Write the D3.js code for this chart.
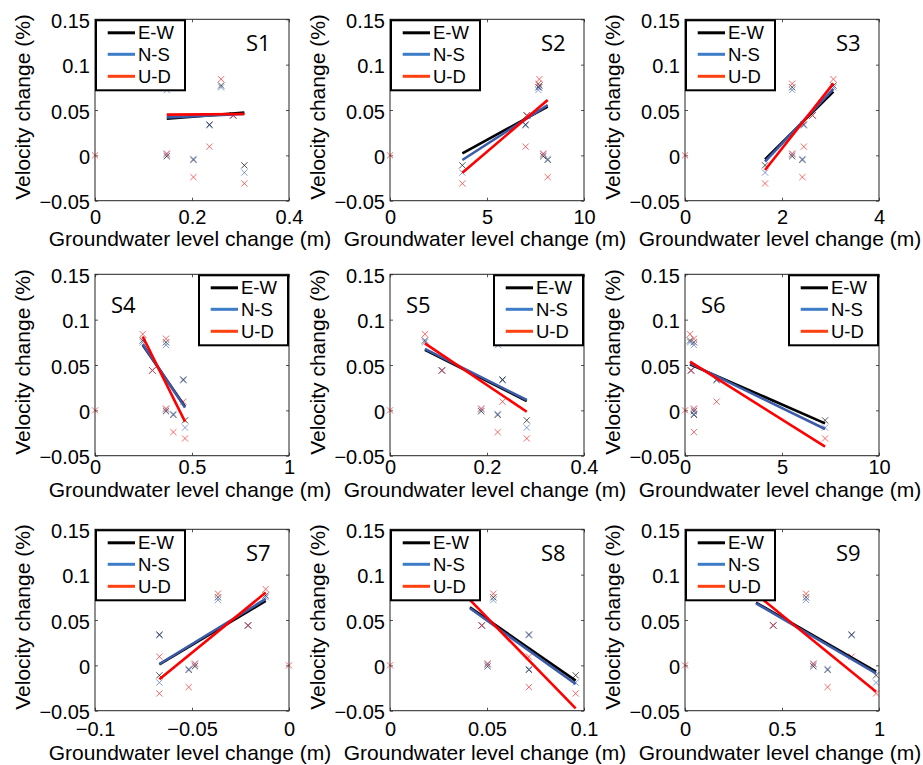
<!DOCTYPE html>
<html>
<head>
<meta charset="utf-8">
<script src="https://cdn.jsdelivr.net/npm/d3@7"></script>
<style>
  body { margin: 0; background: #fff; }
  svg { display: block; }
  text { font-family: "Liberation Sans", Arial, Helvetica, sans-serif; fill: #000; }
</style>
</head>
<body>
<svg id="chart" width="923" height="765"></svg>
<script>
// ---- data -------------------------------------------------------------
const stations = ["S1", "S2", "S3", "S4", "S5", "S6", "S7", "S8", "S9"];
const components = ["E-W", "N-S", "U-D"];

// velocity change (%) for the seven survey epochs, one array per component
const velocityEW = [0.075, -0.001, -0.005, 0.034, 0.077, 0.044, -0.011];
const velocityNS = [0.072, 0.001, -0.004, 0.033, 0.075, 0.044, -0.019];
const velocityUD = [0.079, 0.002, -0.024, 0.0096, 0.084, 0.044, -0.031];

// groundwater level change (m) at each station for the same seven epochs
const gwS1 = [0.148, 0.148, 0.203, 0.236, 0.260, 0.285, 0.308];
const gwS2 = [7.65, 7.90, 8.13, 6.99, 7.70, 7.05, 3.73];
const gwS3 = [2.21, 2.21, 2.42, 2.45, 3.06, 2.63, 1.65];
const gwS4 = [0.366, 0.366, 0.404, 0.455, 0.246, 0.296, 0.464];
const gwS5 = [0.223, 0.188, 0.222, 0.232, 0.072, 0.107, 0.282];
const gwS6 = [0.46, 0.46, 0.46, 1.63, 0.26, 0.31, 7.22];
const gwS7 = [-0.0366, -0.0485, -0.0517, -0.0668, -0.012, -0.0211, -0.0668];
const gwS8 = [0.0533, 0.0503, 0.0716, 0.0716, 0.0412, 0.0473, 0.0957];
const gwS9 = [0.624, 0.6615, 0.735, 0.859, 0.366, 0.455, 0.985];

// linear fits: velocity change at the smallest and largest groundwater change
const fitEW = [[0.0404, 0.0471], [0.0022, 0.0537], [-0.0044, 0.0702], [0.0721, 0.0041], [0.0666, 0.0103],
               [0.0507, -0.0143], [0.0011, 0.0710], [0.0640, -0.0169], [0.0691, -0.0070]];
const fitNS = [[0.0419, 0.0456], [-0.0051, 0.0555], [-0.0070, 0.0732], [0.0728, 0.0030], [0.0677, 0.0114],
               [0.0518, -0.0206], [0.0015, 0.0732], [0.0629, -0.0206], [0.0684, -0.0088]];
const fitUD = [[0.0449, 0.0456], [-0.0191, 0.0610], [-0.0162, 0.0794], [0.0813, -0.0125], [0.0739, -0.0015],
               [0.0537, -0.0400], [-0.0154, 0.0802], [0.0721, -0.0474], [0.0787, -0.0290]];

// reference point at the origin
const originPoint = [0, 0];

// axis ticks
const yTicks = [-0.05, 0, 0.05, 0.1, 0.15];
const xTicksS1 = [0, 0.2, 0.4];
const xTicksS2 = [0, 5, 10];
const xTicksS3 = [0, 2, 4];
const xTicksS4 = [0, 0.5, 1];
const xTicksS5 = [0, 0.2, 0.4];
const xTicksS6 = [0, 5, 10];
const xTicksS7 = [-0.1, -0.05, 0];
const xTicksS8 = [0, 0.05, 0.1];
const xTicksS9 = [0, 0.5, 1];

const gwLevels = [gwS1, gwS2, gwS3, gwS4, gwS5, gwS6, gwS7, gwS8, gwS9];
const xTicks = [xTicksS1, xTicksS2, xTicksS3, xTicksS4, xTicksS5, xTicksS6, xTicksS7, xTicksS8, xTicksS9];
const velocities = [velocityEW, velocityNS, velocityUD];
const fits = [fitEW, fitNS, fitUD];

// ---- layout & style ----------------------------------------------------
const colLeft = [95, 390, 685];
const rowTop = [19.3, 274.3, 529.3];
const pw = 194, ph = 181.4;
const tickLabelOffset = [23, 18, 25.5];
const axisLabelOffset = [45, 41, 49.2];
const legendSide = ["left", "left", "left", "right", "right", "right", "left", "left", "left"];

const markColors = ["#111111", "#5577cc", "#ff3030"];
const lineColors = ["#000000", "#3b5ba8", "#ff0000"];
const legendColors = ["#000000", "#3d7cc6", "#ff4010"];

const fmt = d => {
  if (d === 0) return "0";
  const s = String(+Math.abs(d).toFixed(3));
  return (d < 0 ? "\u2212" : "") + s;
};

const svg = d3.select("#chart");

stations.forEach((name, i) => {
  const r = Math.floor(i / 3), c = i % 3;
  const g = svg.append("g").attr("transform", `translate(${colLeft[c]},${rowTop[r]})`);
  const xt = xTicks[i];
  const x = d3.scaleLinear().domain([xt[0], xt[xt.length - 1]]).range([0, pw]);
  const y = d3.scaleLinear().domain([-0.05, 0.15]).range([ph, 0]);

  // inward tick marks on all four sides
  const bottom = g.append("g").attr("transform", `translate(0,${ph})`)
    .call(d3.axisBottom(x).tickValues(xt).tickFormat(fmt).tickSize(-3));
  const left = g.append("g")
    .call(d3.axisLeft(y).tickValues(yTicks).tickFormat(fmt).tickSize(-3));
  g.append("g").call(d3.axisTop(x).tickValues(xt).tickFormat("").tickSize(-3));
  g.append("g").attr("transform", `translate(${pw},0)`)
    .call(d3.axisRight(y).tickValues(yTicks).tickFormat("").tickSize(-3));
  g.selectAll(".domain").remove();
  g.selectAll(".tick line").attr("stroke", "#555").attr("stroke-width", 1);

  bottom.selectAll("text")
    .attr("y", tickLabelOffset[r]).attr("dy", null)
    .style("font-size", "20px").style("font-family", "'Liberation Sans', Arial, sans-serif").attr("fill", "#000");
  left.selectAll("text")
    .attr("x", -5).attr("dy", null).attr("y", 8)
    .style("font-size", "20px").style("font-family", "'Liberation Sans', Arial, sans-serif").attr("fill", "#000");

  // crosses
  const cross = (cx, cy, s) => `M${cx - s},${cy - s}L${cx + s},${cy + s}M${cx - s},${cy + s}L${cx + s},${cy - s}`;
  const gw = gwLevels[i];
  velocities.forEach((vals, k) => {
    g.append("path")
      .attr("d", vals.map((v, j) => cross(x(gw[j]), y(v), 3.1)).join(""))
      .attr("fill", "none").attr("stroke", markColors[k]).attr("stroke-width", 0.9)
      .attr("stroke-opacity", 0.8);
  });
  g.append("path")
    .attr("d", cross(x(originPoint[0]), y(originPoint[1]), 3.1))
    .attr("fill", "none").attr("stroke", markColors[2]).attr("stroke-width", 0.9).attr("stroke-opacity", 0.8);

  // fitted lines
  const [xmin, xmax] = d3.extent(gw);
  fits.forEach((f, k) => {
    const [v0, v1] = f[i];
    g.append("line")
      .attr("x1", x(xmin)).attr("y1", y(v0))
      .attr("x2", x(xmax)).attr("y2", y(v1))
      .attr("stroke", lineColors[k]).attr("stroke-width", 2.6);
  });

  // frame
  g.append("rect").attr("width", pw).attr("height", ph)
    .attr("fill", "none").attr("stroke", "#222").attr("stroke-width", 1);

  // legend
  const lw = 91, lh = 72;
  const lg = g.append("g").attr("transform", `translate(${legendSide[i] === "left" ? 0 : pw - lw},0)`);
  lg.append("rect").attr("x", 1).attr("y", 1).attr("width", lw - 2).attr("height", lh - 2)
    .attr("fill", "#fff").attr("stroke", "#000").attr("stroke-width", 2);
  const rows = [13.5, 35, 57];
  components.forEach((comp, k) => {
    lg.append("line").attr("x1", 12.7).attr("x2", 40).attr("y1", rows[k]).attr("y2", rows[k])
      .attr("stroke", legendColors[k]).attr("stroke-width", 3);
    lg.append("text").attr("x", 43).attr("y", rows[k] + 6.5)
      .style("font-size", "18.5px").text(comp);
  });

  // station name
  const onLeft = legendSide[i] === "left";
  g.append("text")
    .attr("x", onLeft ? 151 : 16).attr("y", onLeft ? 32 : 39)
    .style("font-family", "'Open Sans', sans-serif").style("font-size", "22px")
    .text(name);

  // axis titles
  g.append("text")
    .attr("text-anchor", "middle")
    .attr("x", pw / 2 - 2).attr("y", ph + axisLabelOffset[r])
    .style("font-size", "21px")
    .text("Groundwater level change (m)");
  g.append("text")
    .attr("text-anchor", "middle")
    .attr("transform", `translate(-65,${ph / 2 - 3}) rotate(-90)`)
    .style("font-size", "21px")
    .text("Velocity change (%)");
});
</script>
</body>
</html>
